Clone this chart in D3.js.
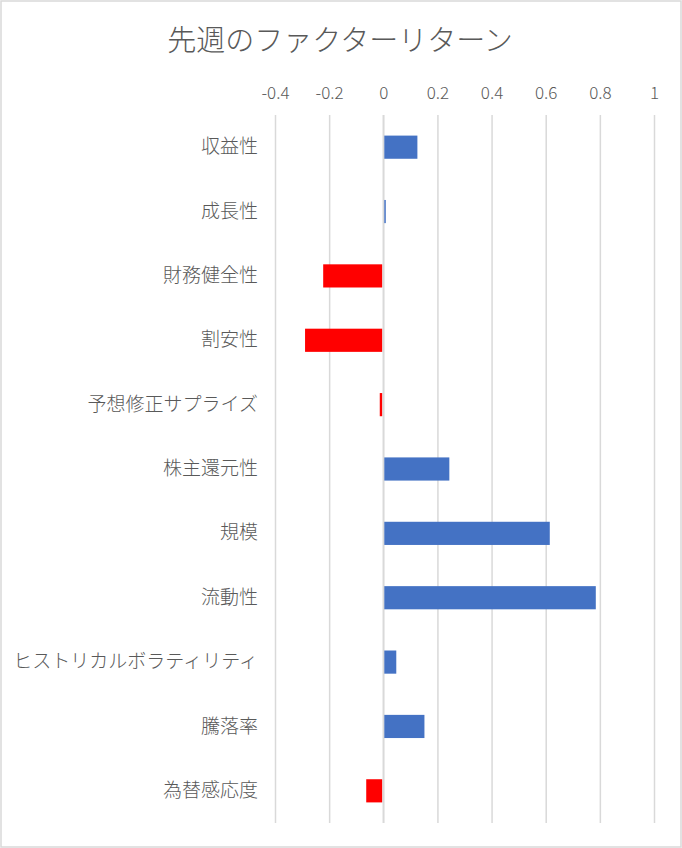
<!DOCTYPE html>
<html>
<head>
<meta charset="utf-8">
<script src="https://cdn.jsdelivr.net/npm/d3@7"></script>
<style>
  html, body { margin: 0; padding: 0; background: #fff; }
  svg { display: block; }
  text { font-family: "Noto Sans CJK JP", "Noto Sans", sans-serif; }
</style>
</head>
<body>
<script>
const title = "先週のファクターリターン";
const categories = ["収益性","成長性","財務健全性","割安性","予想修正サプライズ","株主還元性","規模","流動性","ヒストリカルボラティリティ","騰落率","為替感応度"];
const values = [0.126, 0.008, -0.222, -0.289, -0.013, 0.244, 0.615, 0.785, 0.048, 0.152, -0.063];
const tickValues = [-0.4, -0.2, 0, 0.2, 0.4, 0.6, 0.8, 1];

const W = 682, H = 848;
const svg = d3.select("body").append("svg").attr("width", W).attr("height", H);

svg.append("rect").attr("x", 1).attr("y", 1).attr("width", W - 2).attr("height", H - 2)
  .attr("fill", "#fff").attr("stroke", "#D9D9D9").attr("stroke-width", 1.5);

svg.append("text").attr("x", 340).attr("y", 51).attr("text-anchor", "middle")
  .attr("font-size", 29).attr("font-weight", 300).attr("fill", "#595959").text(title);

const plotTop = 115, plotBottom = 823;
const x = d3.scaleLinear().domain([-0.4, 1]).range([275, 654]);
const y = d3.scaleBand().domain(categories).range([plotTop, plotBottom]).paddingInner(0.64).paddingOuter(0.32);

const xAxis = d3.axisTop(x).tickValues(tickValues).tickSizeInner(-(plotBottom - plotTop)).tickSizeOuter(0)
  .tickPadding(16).tickFormat(d => String(d));
const gx = svg.append("g").attr("transform", `translate(0,${plotTop})`).call(xAxis);
gx.select(".domain").remove();
gx.selectAll("line").attr("stroke", "#D9D9D9").attr("stroke-width", 1.5);
gx.selectAll("text").attr("font-size", 17).attr("fill", "#595959").attr("font-weight", 300)
  .style("font-family", '"Noto Sans CJK JP", sans-serif');

svg.append("g").selectAll("rect").data(values).join("rect")
  .attr("x", d => d >= 0 ? x(0) + 1 : x(d))
  .attr("width", d => Math.max(1.5, Math.abs(x(d) - x(0)) - 1))
  .attr("y", (d, i) => y(categories[i]))
  .attr("height", y.bandwidth())
  .attr("fill", d => d >= 0 ? "#4472C4" : "#FF0000");

svg.append("line").attr("x1", x(0)).attr("x2", x(0)).attr("y1", plotTop).attr("y2", plotBottom)
  .attr("stroke", "#D9D9D9").attr("stroke-width", 1.5);

const yAxis = d3.axisLeft(y).tickSize(0).tickPadding(0);
const gy = svg.append("g").attr("transform", "translate(258,0)").call(yAxis);
gy.select(".domain").remove();
gy.selectAll("text").attr("font-size", 19).attr("fill", "#595959").attr("font-weight", 300)
  .style("font-family", '"Noto Sans CJK JP", sans-serif');
</script>
</body>
</html>
